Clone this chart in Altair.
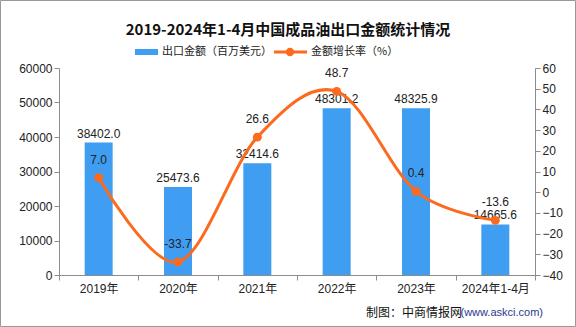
import altair as alt
import pandas as pd

categories = ["2019年", "2020年", "2021年", "2022年", "2023年", "2024年1-4月"]
export_amount = [38402.0, 25473.6, 32414.6, 48301.2, 48325.9, 14665.6]
growth_rate = [7.0, -33.7, 26.6, 48.7, 0.4, -13.6]

df = pd.DataFrame({
    "cat": categories,
    "amount": export_amount,
    "growth": growth_rate,
})
df["amount_lbl"] = [f"{v:.1f}" for v in export_amount]
df["growth_lbl"] = [f"{v:.1f}" for v in growth_rate]

FONT = "Liberation Sans, Noto Sans CJK SC"
CJK = "Noto Sans CJK SC"
BLUE = "#3f9ef2"
ORANGE = "#fb6a1e"
GRAY = "#8c8c8c"

x_enc = alt.X(
    "cat:N", sort=categories, title=None,
    scale=alt.Scale(paddingInner=0, paddingOuter=0),
    axis=alt.Axis(labelAngle=0, tickBand="extent", domainColor=GRAY, tickColor=GRAY,
                  tickSize=5, labelPadding=3, labelFontSize=12, labelColor="#222",
                  labelFont=FONT),
)

y_left = alt.Y(
    "amount:Q", title=None,
    scale=alt.Scale(domain=[0, 60000], nice=False),
    axis=alt.Axis(orient="left", values=list(range(0, 60001, 10000)), grid=False,
                  format="d", labelOverlap=False,
                  domainColor=GRAY, tickColor=GRAY, tickSize=5, labelPadding=2,
                  labelFontSize=12, labelColor="#222", labelFont=FONT),
)
y_right = alt.Y(
    "growth:Q", title=None,
    scale=alt.Scale(domain=[-40, 60], nice=False),
    axis=alt.Axis(orient="right", values=list(range(-40, 61, 10)), grid=False,
                  format="d", labelOverlap=False,
                  domainColor=GRAY, tickColor=GRAY, tickSize=5, labelPadding=2,
                  labelFontSize=12, labelColor="#222", labelFont=FONT),
)

base = alt.Chart(df)

bars = base.mark_bar(size=28, color=BLUE).encode(x=x_enc, y=y_left)
bar_text = base.mark_text(dy=-9, baseline="middle", fontSize=12, font=FONT, color="#222").encode(
    x=x_enc, y=y_left, text="amount_lbl:N")
bar_layer = alt.layer(bars, bar_text)

line = base.mark_line(color=ORANGE, strokeWidth=3, interpolate="cardinal").encode(
    x=x_enc, y=y_right)
pts = base.mark_point(filled=True, color=ORANGE, size=80, opacity=1).encode(
    x=x_enc, y=y_right)
line_text = base.mark_text(dy=-18, baseline="middle", fontSize=12, font=FONT, color="#222").encode(
    x=x_enc, y=y_right, text="growth_lbl:N")
line_layer = alt.layer(line, pts, line_text)

one = alt.Chart(pd.DataFrame({"k": [0]}))

title = one.mark_text(fontSize=15, fontWeight="bold", font=CJK, color="#111",
                      align="center", baseline="middle").encode(
    x=alt.value(229), y=alt.value(-38), text=alt.value("2019-2024年1-4月中国成品油出口金额统计情况"))

leg_rect = one.mark_rect(color=BLUE).encode(
    x=alt.value(76), x2=alt.value(99), y=alt.value(-19), y2=alt.value(-13))
leg_t1 = one.mark_text(fontSize=11, font=CJK, color="#222", align="left", baseline="middle").encode(
    x=alt.value(103), y=alt.value(-16), text=alt.value("出口金额（百万美元）"))
leg_line = one.mark_rule(color=ORANGE, strokeWidth=3).encode(
    x=alt.value(215), x2=alt.value(248), y=alt.value(-16))
leg_pt = one.mark_point(filled=True, color=ORANGE, size=70, opacity=1).encode(
    x=alt.value(231), y=alt.value(-16))
leg_t2 = one.mark_text(fontSize=11, font=CJK, color="#222", align="left", baseline="middle").encode(
    x=alt.value(252), y=alt.value(-16), text=alt.value("金额增长率（%）"))

foot1 = one.mark_text(fontSize=12, font=CJK, color="#111", align="right", baseline="middle").encode(
    x=alt.value(403), y=alt.value(245), text=alt.value("制图：中商情报网"))
foot2 = one.mark_text(fontSize=11, font=FONT, color="#2a3a8c", align="right", baseline="middle").encode(
    x=alt.value(484), y=alt.value(245), text=alt.value("(www.askci.com)"))

frame = one.mark_rect(fillOpacity=0, stroke="#999", strokeWidth=1).encode(
    x=alt.value(-58.5), x2=alt.value(516.5), y=alt.value(-67.5), y2=alt.value(258.5))

chart = alt.layer(
    bar_layer, line_layer, title, leg_rect, leg_t1, leg_line, leg_pt, leg_t2, foot1, foot2, frame
).resolve_scale(y="independent").properties(
    width=476, height=207,
    autosize=alt.AutoSizeParams(type="none"),
    padding={"left": 59, "top": 68, "right": 41, "bottom": 52},
    background="white",
).configure_view(stroke=None).configure_axis(labelOverlap=False)

chart.save("out.html", embed_options={"renderer": "svg", "actions": False})
